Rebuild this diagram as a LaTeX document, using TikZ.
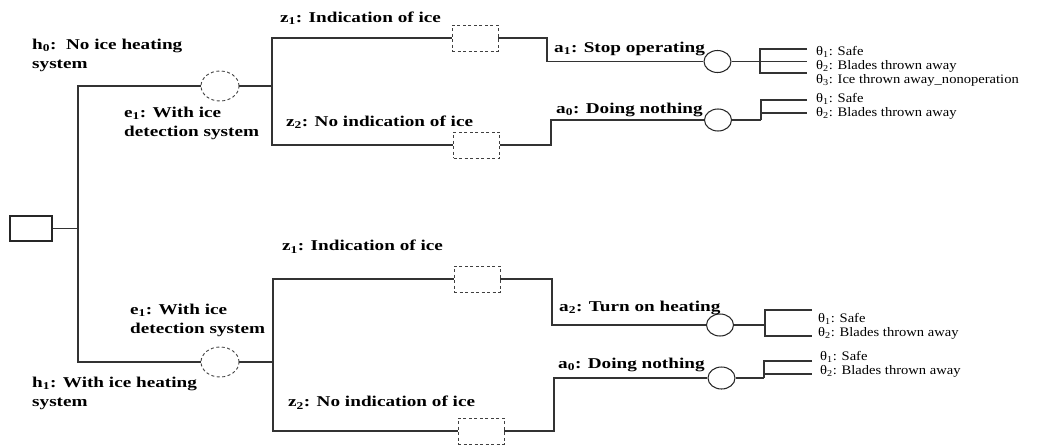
\documentclass[tikz,border=0pt]{standalone}
\usepackage{fontspec}
\setmainfont{Liberation Serif}
\newfontfamily\lblfont[FakeStretch=1.28]{Liberation Serif}
\newfontfamily\thfont[FakeStretch=1.12]{Liberation Serif}
\usetikzlibrary{shapes.geometric}
\tikzset{
  ln/.style={draw=black!80, line width=1.05pt},
  rootbox/.style={draw=black!85, line width=1.05pt, minimum width=42pt, minimum height=25pt, inner sep=0pt},
  decbox/.style={draw=black!75, dash pattern=on 3pt off 2.5pt, line width=0.9pt, minimum width=46pt, minimum height=26pt, inner sep=0pt},
  evnode/.style={ellipse, draw=black!75, dash pattern=on 3pt off 2.5pt, line width=0.9pt, minimum width=38pt, minimum height=30pt, inner sep=0pt},
  chnode/.style={ellipse, draw=black!85, line width=1.05pt, minimum width=27pt, minimum height=22pt, inner sep=0pt},
  lbl/.style={anchor=west, inner sep=0pt, align=left, font=\lblfont\bfseries\fontsize{15}{19}\selectfont},
  th/.style={anchor=west, inner sep=0pt, font=\thfont\fontsize{13}{14}\selectfont},
}
\begin{document}
\begin{tikzpicture}[x=1pt,y=-1pt]
\useasboundingbox (0,0) rectangle (1048,445);
% root
\node[rootbox] (root) at (31,228.5) {};
\coordinate (j0) at (78,228.5);
% event nodes
\node[evnode] (eA) at (220,86) {};
\node[evnode] (eB) at (220,362) {};
\draw[ln] (root.east) -- (j0);
\draw[ln] (eA.west) -| (j0) |- (eB.west);
% top half
\coordinate (kA) at (272,86);
\node[decbox] (dA1) at (475,38) {};
\node[decbox] (dA2) at (476.5,145) {};
\draw[ln] (eA.east) -- (kA);
\draw[ln] (dA1.west) -| (kA) |- (dA2.west);
\node[chnode] (cA1) at (717.5,61.5) {};
\node[chnode] (cA2) at (718,120) {};
\draw[ln] (dA1.east) -| (547,61.5) -- (cA1.west);
\draw[ln] (dA2.east) -| (551,120) -- (cA2.west);
\coordinate (tA1) at (807,49);
\coordinate (tA2) at (807,61.5);
\coordinate (tA3) at (807,73);
\draw[ln] (cA1.east) -- (tA2);
\draw[ln] (tA1) -| (760,73) -- (tA3);
\coordinate (tB1) at (807,100);
\coordinate (tB2) at (807,113);
\draw[ln] (cA2.east) -- (761,120);
\draw[ln] (tB1) -| (761,120);
\draw[ln] (761,113) -- (tB2);
% bottom half
\coordinate (kB) at (273,362);
\node[decbox] (dB1) at (477,279) {};
\node[decbox] (dB2) at (481,431) {};
\draw[ln] (eB.east) -- (kB);
\draw[ln] (dB1.west) -| (kB) |- (dB2.west);
\node[chnode] (cB1) at (720,325) {};
\node[chnode] (cB2) at (721.5,378) {};
\draw[ln] (dB1.east) -| (552,325) -- (cB1.west);
\draw[ln] (dB2.east) -| (554,378) -- (cB2.west);
\coordinate (tC1) at (812,310);
\coordinate (tC2) at (812,336);
\draw[ln] (cB1.east) -- (765,325);
\draw[ln] (tC1) -| (765,336) -- (tC2);
\coordinate (tD1) at (812,361);
\coordinate (tD2) at (812,374);
\draw[ln] (cB2.east) -- (764,378);
\draw[ln] (tD1) -| (764,378);
\draw[ln] (764,374) -- (tD2);
% labels
\node[lbl] (lh0) at (32,55.5) {h\textsubscript{0}:\ \ No ice heating\\system};
\node[lbl] (le1a) at (124,123.5) {e\textsubscript{1}: With ice\\detection system};
\node[lbl] (lz1a) at (280,18) {z\textsubscript{1}: Indication of ice};
\node[lbl] (lz2a) at (286,122) {z\textsubscript{2}: No indication of ice};
\node[lbl] (la1) at (554,49) {a\textsubscript{1}: Stop operating};
\node[lbl] (la0a) at (556,110) {a\textsubscript{0}: Doing nothing};
\node[lbl] (le1b) at (130,320.4) {e\textsubscript{1}: With ice\\detection system};
\node[lbl] (lh1) at (32,393) {h\textsubscript{1}: With ice heating\\system};
\node[lbl] (lz1b) at (282,246.7) {z\textsubscript{1}: Indication of ice};
\node[lbl] (lz2b) at (288,402.7) {z\textsubscript{2}: No indication of ice};
\node[lbl] (la2) at (559,308) {a\textsubscript{2}: Turn on heating};
\node[lbl] (la0b) at (558,365) {a\textsubscript{0}: Doing nothing};
% theta labels
\node[th] (tha1) at (816,52) {θ\textsubscript{1}: Safe};
\node[th] (tha2) at (816,66) {θ\textsubscript{2}: Blades thrown away};
\node[th] (tha3) at (816,80) {θ\textsubscript{3}: Ice thrown away\_nonoperation};
\node[th] (thb1) at (816,99) {θ\textsubscript{1}: Safe};
\node[th] (thb2) at (816,113) {θ\textsubscript{2}: Blades thrown away};
\node[th] (thc1) at (818,319) {θ\textsubscript{1}: Safe};
\node[th] (thc2) at (818,333) {θ\textsubscript{2}: Blades thrown away};
\node[th] (thd1) at (820,357) {θ\textsubscript{1}: Safe};
\node[th] (thd2) at (820,371) {θ\textsubscript{2}: Blades thrown away};
\end{tikzpicture}
\end{document}
